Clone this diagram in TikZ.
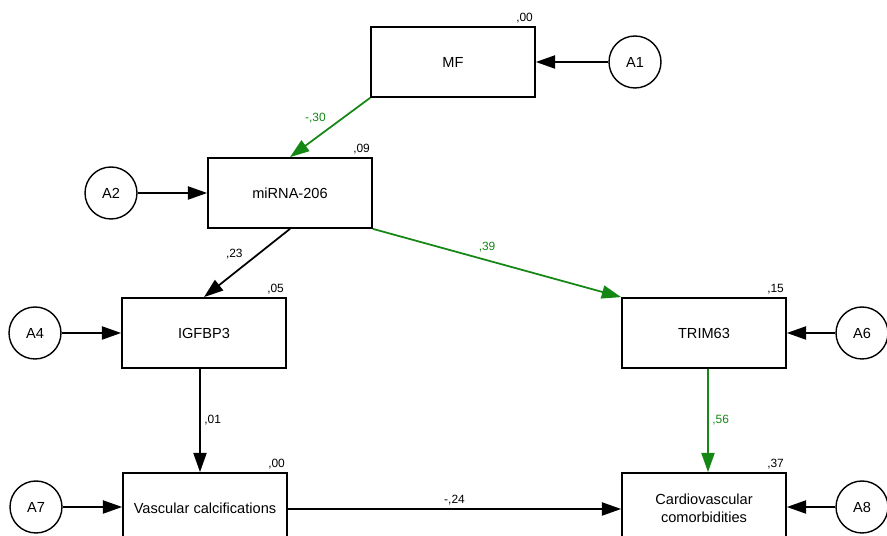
\documentclass[tikz,border=0pt]{standalone}
\usepackage{fontspec}
\setmainfont{Liberation Sans}
\usetikzlibrary{positioning,arrows.meta}
\definecolor{pathgreen}{RGB}{20,135,20}

\begin{document}
\begin{tikzpicture}[x=0.02cm,y=-0.02cm,
	var/.style={draw,line width=1pt,minimum width=3.28cm,minimum height=1.4cm,inner sep=1pt,font=\fontsize{8.3}{10.2}\selectfont,align=center},
	err/.style={draw,circle,line width=0.8pt,minimum size=1.04cm,inner sep=0pt,font=\fontsize{8.3}{10}\selectfont},
	rsq/.style={anchor=south east,inner sep=1.5pt,font=\fontsize{6.8}{8}\selectfont},
	coef/.style={inner sep=2pt,font=\fontsize{6.8}{8}\selectfont},
	link/.style={line width=1pt,-{Triangle[length=11pt,width=7.5pt]}}]
			\useasboundingbox (0,0) rectangle (887,536);
			\clip (0,0) rectangle (887,536);
			% observed variables
			\node [var] (mf) at (453,62) {MF};
			\node [var] (mir) at (290,193) {miRNA-206};
			\node [var] (igf) at (204,333) {IGFBP3};
			\node [var] (trim) at (704,333) {TRIM63};
			\node [var] (vasc) at (205,508) {Vascular calcifications};
			\node [var] (cardio) at (704,508) {Cardiovascular\\comorbidities};
			% squared multiple correlations
			\node [rsq] (mfr) at (mf.north east) {,00};
			\node [rsq] (mirr) at (mir.north east) {,09};
			\node [rsq] (igfr) at (igf.north east) {,05};
			\node [rsq] (trimr) at (trim.north east) {,15};
			\node [rsq] (vascr) at (vasc.north east) {,00};
			\node [rsq] (cardior) at (cardio.north east) {,37};
			% error terms
			\node [err] (a1) at (635,62) {A1};
			\node [err] (a2) at (111,193) {A2};
			\node [err] (a4) at (35,333) {A4};
			\node [err] (a6) at (862,333) {A6};
			\node [err] (a7) at (36,507) {A7};
			\node [err] (a8) at (862,507) {A8};
			\draw [link] (a1) -- (mf);
			\draw [link] (a2) -- (mir);
			\draw [link] (a4) -- (igf);
			\draw [link] (a6) -- (trim);
			\draw [link] (a7) -- (vasc.west |- a7);
			\draw [link] (a8) -- (cardio.east |- a8);
			% paths
			\draw [link,pathgreen] (mf.south west) -- (mir.north) node [coef,midway,above left] (c1) {-,30};
			\draw [link] (mir.south) -- (igf.north) node [coef,midway,above left] (c2) {,23};
			\draw [link,pathgreen] (mir.south east) -- (trim.north west) node [coef,pos=0.46,above,yshift=2pt] (c3) {,39};
			\draw [link] (igf.south -| 200,0) -- (vasc.north -| 200,0) node [coef,midway,right] (c4) {,01};
			\draw [link,pathgreen] (trim.south -| 708,0) -- (cardio.north -| 708,0) node [coef,midway,right] (c5) {,56};
			\draw [link] (vasc.east |- 0,509) -- (cardio.west |- 0,509) node [coef,midway,above] (c6) {-,24};
\end{tikzpicture}
\end{document}
